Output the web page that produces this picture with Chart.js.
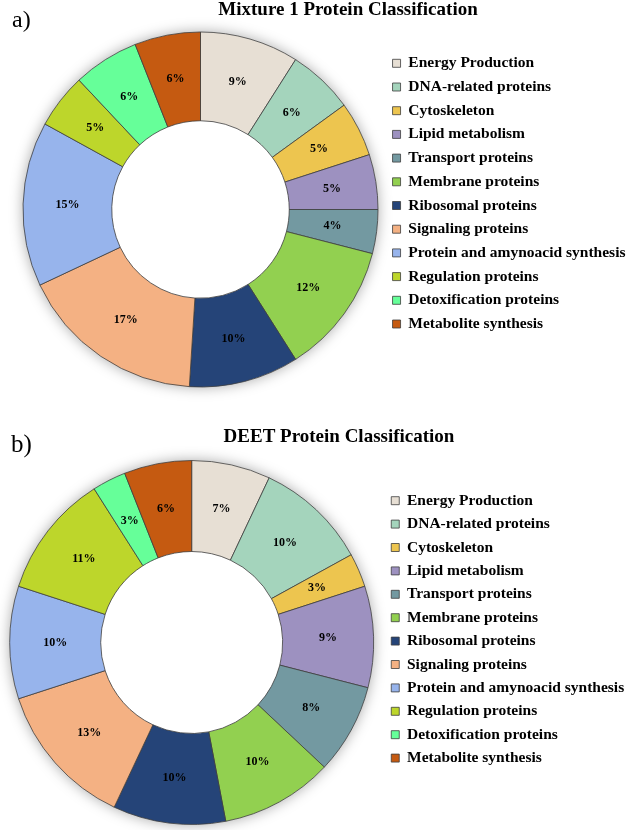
<!DOCTYPE html>
<html><head><meta charset="utf-8">
<script src="https://cdn.jsdelivr.net/npm/chart.js@4"></script>
<style>
html,body{margin:0;padding:0;background:#fff;width:629px;height:830px;overflow:hidden;}
.wrap{position:absolute;left:0;width:629px;height:415px;}
#wa{top:0}
#wb{top:415px}
canvas{display:block}
</style></head><body>
<div class="wrap" id="wa"><canvas id="ca" width="629" height="415"></canvas></div>
<div class="wrap" id="wb"><canvas id="cb" width="629" height="415"></canvas></div>
<script>
const categories = [
  'Energy Production', 'DNA-related proteins', 'Cytoskeleton', 'Lipid metabolism',
  'Transport proteins', 'Membrane proteins', 'Ribosomal proteins', 'Signaling proteins',
  'Protein and amynoacid synthesis', 'Regulation proteins', 'Detoxification proteins',
  'Metabolite synthesis'
];
const mixture1Values = [9, 6, 5, 5, 4, 12, 10, 17, 15, 5, 6, 6];
const deetValues = [7, 10, 3, 9, 8, 10, 10, 13, 10, 11, 3, 6];
const sliceColors = [
  '#E7DFD4', '#A4D4BC', '#EDC54F', '#9D91C0', '#7399A1', '#92D050',
  '#254478', '#F4B183', '#97B4EC', '#BDD62B', '#66FF99', '#C55A11'
];
const titleA = 'Mixture 1 Protein Classification';
const titleB = 'DEET Protein Classification';
const tagA = 'a)';
const tagB = 'b)';

const SERIF = "'Liberation Serif', 'Times New Roman', Times, serif";
const W = 629, H = 415;
const LEG_FONT = 15.5, BOX = 8;

const ringShadow = {
  id: 'ringShadow',
  beforeDatasetsDraw(chart) {
    const arc = chart.getDatasetMeta(0).data[0];
    if (!arc) return;
    const ctx = chart.ctx;
    ctx.save();
    ctx.shadowColor = 'rgba(0,0,0,0.35)';
    ctx.shadowBlur = 14;
    ctx.beginPath();
    ctx.arc(arc.x, arc.y, arc.outerRadius, 0, Math.PI * 2);
    ctx.fillStyle = '#fff';
    ctx.fill();
    ctx.restore();
  }
};

const sliceLabels = {
  id: 'sliceLabels',
  afterDatasetsDraw(chart) {
    const meta = chart.getDatasetMeta(0);
    const data = chart.data.datasets[0].data;
    const ctx = chart.ctx;
    ctx.save();
    ctx.font = `bold 12px ${SERIF}`;
    ctx.textAlign = 'center';
    ctx.textBaseline = 'middle';
    ctx.fillStyle = '#000';
    meta.data.forEach((el, i) => {
      const p = el.tooltipPosition();
      ctx.fillText(data[i] + '%', p.x, p.y);
    });
    ctx.restore();
  }
};

const headings = {
  id: 'headings',
  afterDraw(chart, args, opts) {
    const ctx = chart.ctx;
    ctx.save();
    ctx.fillStyle = '#000';
    ctx.textBaseline = 'alphabetic';
    ctx.font = `bold 19px ${SERIF}`;
    ctx.textAlign = 'center';
    ctx.fillText(opts.title, opts.titleX, opts.titleY);
    ctx.font = `${opts.tagSize}px ${SERIF}`;
    ctx.textAlign = 'left';
    ctx.fillText(opts.tag, opts.tagX, opts.tagY);
    ctx.restore();
  }
};

function makeChart(id, values, title, tag, g) {
  const pad = g.rowStep - LEG_FONT;
  const m = document.createElement('canvas').getContext('2d');
  m.font = `bold ${LEG_FONT}px ${SERIF}`;
  const maxText = Math.max(...categories.map(c => m.measureText(c).width));
  const legendW = pad + BOX + LEG_FONT / 2 + maxText + 10;
  const legendLeft = g.textX - LEG_FONT / 2 - BOX - pad;
  const top = g.firstRowY - LEG_FONT / 2 - pad;
  const bottom = 2 * g.cy - top;
  const left = 2 * g.cx - legendLeft;
  return new Chart(document.getElementById(id), {
    type: 'doughnut',
    data: {
      labels: categories,
      datasets: [{
        data: values,
        backgroundColor: sliceColors,
        borderColor: '#3d3d3d',
        borderWidth: 0.8,
        clip: false
      }]
    },
    options: {
      responsive: false,
      animation: false,
      devicePixelRatio: 1,
      radius: g.r,
      cutout: '50%',
      layout: { padding: { left: left, right: W - legendLeft - legendW, top: top, bottom: H - bottom } },
      plugins: {
        legend: {
          position: 'right',
          align: 'start',
          labels: {
            boxWidth: BOX,
            boxHeight: BOX,
            padding: pad,
            color: '#000',
            font: { family: SERIF, size: LEG_FONT, weight: 'bold' }
          }
        },
        tooltip: { enabled: false },
        headings: { title: title, tag: tag, titleX: g.titleX, titleY: g.titleY, tagX: g.tagX, tagY: g.tagY, tagSize: g.tagSize }
      }
    },
    plugins: [ringShadow, sliceLabels, headings]
  });
}

makeChart('ca', mixture1Values, titleA, tagA, {
  cx: 200.5, cy: 209.5, r: 177.5, textX: 408.3, firstRowY: 63.3, rowStep: 23.7,
  titleX: 348, titleY: 15, tagX: 12, tagY: 27, tagSize: 24
});
makeChart('cb', deetValues, titleB, tagB, {
  cx: 190.8, cy: 227.5, r: 182, textX: 407, firstRowY: 85.7, rowStep: 23.4,
  titleX: 339, titleY: 26.7, tagX: 11, tagY: 36.5, tagSize: 25
});
</script>
</body></html>
